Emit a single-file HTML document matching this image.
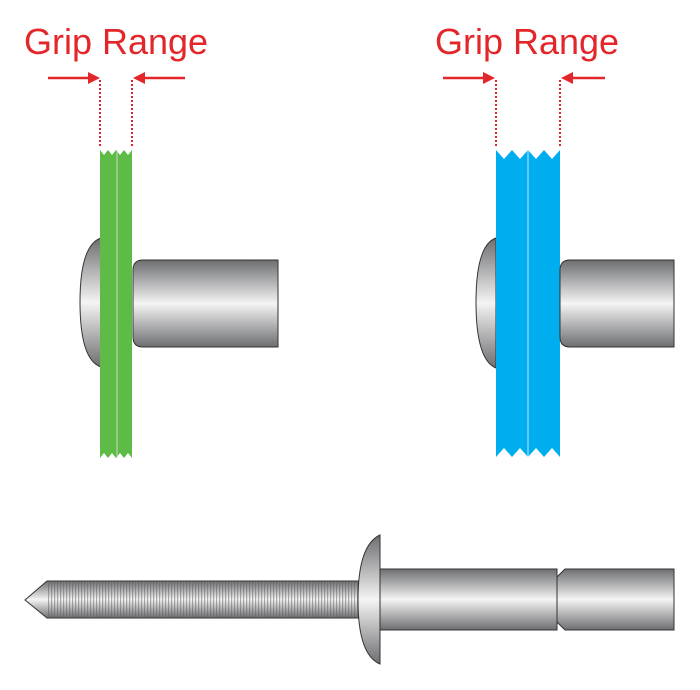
<!DOCTYPE html>
<html><head><style>html,body{margin:0;padding:0;background:#fff}svg{display:block}</style></head>
<body>
<svg width="700" height="690" viewBox="0 0 700 690" xmlns="http://www.w3.org/2000/svg">
<defs>
<linearGradient id="cyl" x1="0" y1="0" x2="0" y2="1">
<stop offset="0" stop-color="#6d6e71"/><stop offset="0.5" stop-color="#f4f4f4"/><stop offset="1" stop-color="#6d6e71"/>
</linearGradient>
<linearGradient id="hd" x1="0" y1="0" x2="0" y2="1">
<stop offset="0" stop-color="#6d6e71"/><stop offset="0.5" stop-color="#f4f4f4"/><stop offset="1" stop-color="#6d6e71"/>
</linearGradient>
<pattern id="thr" width="3" height="10" patternUnits="userSpaceOnUse">
<rect width="1.2" height="10" fill="#555" opacity="0.45"/>
</pattern>
</defs>
<g font-family="Liberation Sans, sans-serif" font-size="36" fill="#e3262a">
<text x="24" y="54" textLength="184" lengthAdjust="spacingAndGlyphs">Grip Range</text>
<text x="435" y="54" textLength="184" lengthAdjust="spacingAndGlyphs">Grip Range</text>
</g>
<g stroke="#e3262a" stroke-width="2.5" fill="#e3262a">
<line x1="48" y1="78" x2="90" y2="78"/><polygon points="100,78 88,72 88,84" stroke="none"/>
<line x1="185" y1="78" x2="143" y2="78"/><polygon points="133,78 145,72 145,84" stroke="none"/>
<line x1="443" y1="78" x2="485" y2="78"/><polygon points="495,78 483,72 483,84" stroke="none"/>
<line x1="605" y1="78" x2="571" y2="78"/><polygon points="561,78 573,72 573,84" stroke="none"/>
</g>
<g stroke="#e3262a" stroke-width="2" stroke-dasharray="2,2">
<line x1="100" y1="80" x2="100" y2="146"/><line x1="132" y1="80" x2="132" y2="146"/>
<line x1="496" y1="80" x2="496" y2="148"/><line x1="560" y1="80" x2="560" y2="148"/>
</g>
<path d="M101,238 Q80,245 80,302 Q80,360 101,367 Z" fill="url(#hd)" stroke="#333" stroke-width="1"/>
<path d="M100,150 L104,155 L108,150 L112,155 L116,150 L120,155 L124,150 L128,155 L132,150 L132,458 L128,453 L124,458 L120,453 L116,458 L112,453 L108,458 L104,453 L100,458 Z" fill="#5dbb46"/>
<line x1="117" y1="150" x2="117" y2="458" stroke="#c8d8c0" stroke-width="1"/>
<path d="M143,260 L278,260 L278,347 L143,347 Q133,347 133,337 L133,270 Q133,260 143,260 Z" fill="url(#cyl)" stroke="#333" stroke-width="1"/>
<path d="M496,238 Q476,245 476,302 Q476,360 496,368 Z" fill="url(#hd)" stroke="#333" stroke-width="1"/>
<path d="M496,150 L504,159 L512,150 L520,159 L528,150 L536,159 L544,150 L552,159 L560,150 L560,457 L552,448 L544,457 L536,448 L528,457 L520,448 L512,457 L504,448 L496,457 Z" fill="#00aeef"/>
<line x1="528" y1="150" x2="528" y2="457" stroke="#bfe8f8" stroke-width="1"/>
<path d="M570,260 L674,260 L674,347 L570,347 Q560,347 560,337 L560,270 Q560,260 570,260 Z" fill="url(#cyl)" stroke="#333" stroke-width="1"/>
<path d="M47,581 L360,581 L360,618 L47,618 L25,600 Z" fill="url(#cyl)" stroke="#333" stroke-width="1"/>
<rect x="47" y="581" width="313" height="37" fill="url(#thr)"/>
<path d="M380,535 Q358,545 358,600 Q358,655 380,664 Z" fill="url(#hd)" stroke="#333" stroke-width="1"/>
<rect x="380" y="569" width="177" height="61" fill="url(#cyl)" stroke="#333" stroke-width="1"/>
<path d="M565,569 L674,569 L674,630 L565,630 L557,622 L557,577 Z" fill="url(#cyl)" stroke="#333" stroke-width="1"/>
</svg>
</body></html>
